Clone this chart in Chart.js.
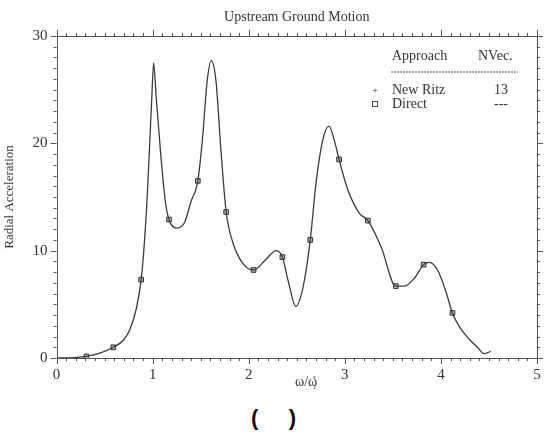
<!DOCTYPE html>
<html>
<head>
<meta charset="utf-8">
<script src="https://cdn.jsdelivr.net/npm/chart.js@4.4.0/dist/chart.umd.min.js"></script>
<style>
  body { margin: 0; background: #fff; }
  #wrap { position: absolute; left: 0; top: 0; width: 547px; height: 395px; }
  #caption {
    position: absolute; left: 0; top: 405px; width: 547px;
    text-align: center; font: bold 22px "Liberation Sans", Arial, sans-serif; color: #111;
  }
</style>
</head>
<body>
<div id="wrap"><canvas id="grafico"></canvas></div>
<div id="caption">(&nbsp;&nbsp;&nbsp;&nbsp;&nbsp;)</div>
<script>
// curva (New Ritz)
const curvaX = [0, 0.1, 0.2, 0.31, 0.45, 0.59, 0.7, 0.76, 0.83, 0.88, 0.91, 0.94, 0.966, 0.99, 1.01,
  1.035, 1.08, 1.13, 1.17, 1.25, 1.33, 1.40, 1.47, 1.52, 1.566, 1.61, 1.66, 1.71, 1.765, 1.84, 1.94,
  2.05, 2.18, 2.285, 2.35, 2.41, 2.49, 2.565, 2.64, 2.70, 2.77, 2.835, 2.89, 2.94, 3.03, 3.15, 3.24,
  3.38, 3.53, 3.62, 3.73, 3.82, 3.88, 3.97, 4.06, 4.12, 4.20, 4.30, 4.38, 4.45, 4.52];
const curvaY = [0, 0, 0.05, 0.15, 0.45, 1.0, 1.7, 2.6, 4.6, 7.3, 10.3, 14.5, 19.4, 24.1, 27.5,
  24.5, 19.4, 14.7, 12.9, 12.1, 12.6, 14.6, 16.5, 20.6, 25.7, 27.7, 25.7, 19.4, 13.6, 10.6, 8.8,
  8.2, 9.2, 10.0, 9.4, 7.2, 4.8, 6.6, 11.0, 16.3, 20.3, 21.6, 20.3, 18.5, 15.7, 13.5, 12.8,
  10.3, 6.7, 6.7, 7.5, 8.7, 8.9, 8.1, 5.95, 4.2, 2.8, 1.7, 1.0, 0.4, 0.63];

// pontos "Direct"
const diretoX = [0.31, 0.59, 0.88, 1.17, 1.47, 1.765, 2.05, 2.35, 2.64, 2.94, 3.24, 3.53, 3.82, 4.12];
const diretoY = [0.15, 1.0, 7.3, 12.9, 16.5, 13.6, 8.2, 9.4, 11.0, 18.5, 12.8, 6.7, 8.7, 4.2];

// eixos
const xTicks = [0, 1, 2, 3, 4, 5];
const yTicks = [0, 10, 20, 30];

// legenda
const tituloGrafico = 'Upstream Ground Motion';
const cabecalhoLegenda = ['Approach', 'NVec.'];
const nomesLegenda = ['New Ritz', 'Direct'];
const nvecLegenda = ['13', '---'];

const serif = '"Liberation Serif", "Times New Roman", serif';
const corTexto = '#333';

// desenha moldura, ticks menores, título, rótulo x e legenda
const extras = {
  id: 'extras',
  afterDraw(chart) {
    const ctx = chart.ctx;
    const a = chart.chartArea;
    const sx = chart.scales.x, sy = chart.scales.y;
    ctx.save();
    ctx.strokeStyle = '#555';
    ctx.lineWidth = 1;
    ctx.strokeRect(Math.round(a.left) + 0.5, Math.round(a.top) + 0.5,
      Math.round(a.right - a.left), Math.round(a.bottom - a.top));
    ctx.beginPath();
    for (let i = 0; i <= 50; i++) {
      const px = Math.round(sx.getPixelForValue(i / 10)) + 0.5;
      const len = i % 10 === 0 ? 6 : 3;
      ctx.moveTo(px, a.bottom); ctx.lineTo(px, a.bottom + len);
      ctx.moveTo(px, a.top); ctx.lineTo(px, a.top - len);
    }
    for (let i = 0; i <= 30; i++) {
      const py = Math.round(sy.getPixelForValue(i)) + 0.5;
      const len = i % 10 === 0 ? 6 : 3;
      ctx.moveTo(a.left, py); ctx.lineTo(a.left - len, py);
      ctx.moveTo(a.right, py); ctx.lineTo(a.right + len, py);
    }
    ctx.stroke();

    ctx.fillStyle = corTexto;
    ctx.textBaseline = 'middle';
    ctx.textAlign = 'center';
    ctx.font = '14px ' + serif;
    ctx.fillText(tituloGrafico, (a.left + a.right) / 2, 17);

    // rótulo do eixo x: ω/ω com índices
    ctx.textAlign = 'left';
    ctx.font = '14px ' + serif;
    ctx.fillText('ω/ω', 295, 382);
    ctx.font = '7px ' + serif;
    ctx.fillText('s', 313, 377);
    ctx.fillText('1', 313, 387);

    // legenda
    ctx.font = '14px ' + serif;
    ctx.fillText(cabecalhoLegenda[0], 392, 56);
    ctx.fillText(cabecalhoLegenda[1], 478, 56);
    ctx.beginPath();
    ctx.setLineDash([2, 1]);
    ctx.moveTo(391, 72); ctx.lineTo(518, 72);
    ctx.stroke();
    ctx.setLineDash([]);
    nomesLegenda.forEach((nome, i) => {
      const y = 90 + i * 14;
      ctx.fillText(nome, 392, y);
      ctx.textAlign = 'center';
      ctx.fillText(nvecLegenda[i], 501, y);
      ctx.textAlign = 'left';
    });
    ctx.font = '10px ' + serif;
    ctx.textAlign = 'center';
    ctx.fillText('+', 375, 91);
    ctx.strokeStyle = '#444';
    ctx.strokeRect(372.5, 101.5, 5, 5);
    ctx.restore();
  }
};

const ctx = document.getElementById('grafico').getContext('2d');
new Chart(ctx, {
  type: 'line',
  data: {
    datasets: [{
      label: nomesLegenda[0],
      data: curvaX.map((x, i) => ({ x: x, y: curvaY[i] })),
      borderColor: '#3a3a3a',
      borderWidth: 1.3,
      pointRadius: 0,
      cubicInterpolationMode: 'monotone',
      fill: false
    }, {
      type: 'scatter',
      label: nomesLegenda[1],
      data: diretoX.map((x, i) => ({ x: x, y: diretoY[i] })),
      pointStyle: 'rect',
      pointRadius: 3.3,
      backgroundColor: '#b5b5b5',
      borderColor: '#333',
      borderWidth: 1,
      showLine: false
    }]
  },
  options: {
    responsive: true,
    maintainAspectRatio: false,
    animation: false,
    layout: { padding: { top: 36, right: 10, left: 0, bottom: 9 } },
    plugins: {
      legend: { display: false },
      tooltip: { enabled: false }
    },
    scales: {
      x: {
        type: 'linear',
        min: 0, max: 5,
        afterBuildTicks: s => { s.ticks = xTicks.map(v => ({ value: v })); },
        grid: { drawOnChartArea: false, drawTicks: true, tickLength: 6, tickColor: 'rgba(0,0,0,0)' },
        border: { display: false },
        ticks: { padding: 2, color: corTexto, font: { family: serif, size: 15 }, maxRotation: 0 }
      },
      y: {
        min: 0, max: 30,
        afterBuildTicks: s => { s.ticks = yTicks.map(v => ({ value: v })); },
        grid: { drawOnChartArea: false, drawTicks: true, tickLength: 6, tickColor: 'rgba(0,0,0,0)' },
        border: { display: false },
        ticks: { padding: 3, color: corTexto, font: { family: serif, size: 15 } },
        title: {
          display: true, text: 'Radial Acceleration', color: corTexto,
          font: { family: serif, size: 13 }, padding: { top: 2, bottom: 12 }
        }
      }
    }
  },
  plugins: [extras]
});
</script>
</body>
</html>
